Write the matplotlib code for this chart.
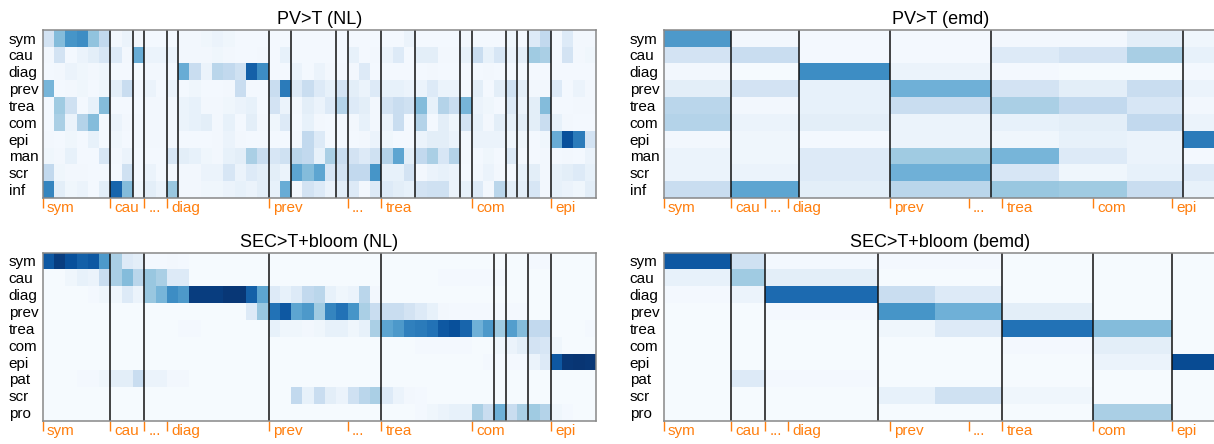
import numpy as np
import matplotlib
matplotlib.use("Agg")
import matplotlib.pyplot as plt

plt.rcParams['font.family'] = ['Liberation Sans', 'DejaVu Sans']

# shared x groups (49 columns)
group_labels = ['sym', 'cau', '...', 'diag', 'prev', '...', 'trea', 'com', 'epi']
group_pos = [0, 6, 9, 11, 20, 27, 30, 38, 45]
n_cols = 49

rows_top = ['sym', 'cau', 'diag', 'prev', 'trea', 'com', 'epi', 'man', 'scr', 'inf']
rows_bot = ['sym', 'cau', 'diag', 'prev', 'trea', 'com', 'epi', 'pat', 'scr', 'pro']

# PV>T (NL) - one value per column
pv_nl = [
    [20,45,62,65,42,28, 5,8, 5, 4,4, 4, 5,5,6,8,6,4,4,4, 4,4, 4,4,4,4, 4, 4,4,4, 4,4,8, 4,4,4,4, 5, 4,4,4, 6, 4, 15,28, 4,15,5,5],
    [5,20,4,8,12,18, 15,5, 52, 8,8, 8, 5,5,5,6,5,4,4,5, 4,10, 4,4,4,4, 4, 10,4,5, 8,15,4, 12,12,5,5, 10, 25,10,18, 8, 12, 38,35, 4,20,5,6],
    [4,5,8,6,5,6, 4,4, 3, 5,5, 5, 52,25,8,30,28,22,82,65, 4,4, 8,4,8,5, 5, 5,15,4, 4,4,4, 4,5,4,4, 4, 4,5,4, 4, 4, 4,4, 4,4,4,4],
    [48,4,5,6,4,6, 12,25, 5, 8,4, 8, 4,6,4,4,5,25,4,4, 25,72, 15,25,15,10, 20, 12,8,15, 10,10,8, 8,15,8,8, 4, 12,4,12, 22, 12, 5,5, 15,4,8,5],
    [4,38,22,4,10,45, 4,4, 4, 5,5, 5, 8,10,5,5,6,8,10,4, 20,8, 5,12,8,15, 32, 15,12,5, 20,25,22, 45,10,32,25, 48, 8,6,4, 15, 8, 12,45, 4,4,5,5],
    [4,35,8,32,45,4, 8,5, 5, 5,5, 5, 8,10,12,5,10,4,12,5, 6,15, 4,10,5,4, 4, 5,10,5, 8,25,4, 32,4,12,6, 20, 10,5,12, 10, 12, 12,25, 10,5,4,4],
    [5,4,6,4,10,4, 6,4, 5, 5,5, 5, 4,4,4,5,8,5,4,4, 4,4, 5,28,15,4, 4, 4,5,8, 6,4,4, 8,12,12,8, 5, 8,8,8, 6, 6, 4,6, 52,88,72,20],
    [6,5,10,4,4,18, 5,8, 4, 4,4, 18, 12,10,6,5,10,12,35,25, 18,22, 30,28,10,35, 25, 20,15,22, 32,55,12, 28,35,18,32, 5, 4,6,4, 15, 4, 4,5, 4,5,4,8],
    [28,6,5,5,4,4, 4,22, 4, 8,4, 4, 5,5,8,8,18,8,15,12, 12,8, 55,45,55,18, 20, 28,28,62, 10,10,20, 5,8,10,8, 4, 5,8,5, 4, 10, 12,5, 10,12,15,10],
    [68,12,6,8,4,12, 80,45, 6, 12,8, 40, 5,5,6,6,8,10,8,12, 10,52, 5,20,15,8, 12, 15,5,15, 15,12,10, 20,22,22,8, 10, 15,5,30, 12, 12, 18,5, 10,8,6,12],
]
pv_nl_lines = [6, 8, 9, 11, 12, 20, 22, 26, 27, 30, 33, 37, 38, 41, 42, 43, 45]

# SEC>T+bloom (NL)
sec_nl = [
    [85,95,88,82,85,60, 35,15,12, 4,4,5,4,3,3,3,3,3,3,3, 3,3,3,3,3,3,3,3,3,3, 3,3,3,3,3,3,3,3,3,3, 3, 3,3, 4,4, 3,3,3,3],
    [3,3,6,10,8,25, 35,45,30, 40,35,15,15,3,3,3,3,3,3,3, 3,3,3,3,3,3,3,3,3,3, 3,3,3,3,3,4,4,4,4,4, 4, 3,3, 3,3, 3,3,3,3],
    [3,3,3,3,4,6, 6,15,8, 40,48,65,60,95,95,95,97,97,82,55, 15,10,15,28,30,10,6,8,30,5, 3,3,3,3,3,3,3,3,3,3, 3, 3,3, 3,3, 3,3,3,3],
    [3,3,3,3,3,3, 3,3,3, 3,3,3,3,3,3,3,3,3,15,40, 75,85,55,60,38,68,75,62,35,25, 25,25,20,15,10,5,4,4,4,4, 4, 4,4, 3,3, 3,3,3,3],
    [3,3,3,3,3,3, 3,3,3, 3,3,3,4,4,3,3,3,3,3,3, 10,6,6,5,6,10,10,6,10,35, 55,60,70,72,75,85,88,80,50,60, 38, 58,45, 28,28, 3,3,3,4],
    [3,3,3,3,3,3, 3,3,3, 3,3,3,3,3,3,3,3,3,3,3, 3,3,3,3,3,3,3,3,3,3, 3,3,3,4,4,4,4,4,3,3, 6, 8,12, 20,18, 6,3,3,3],
    [3,3,3,3,3,3, 3,3,3, 3,3,3,3,3,3,3,3,3,3,3, 3,3,3,3,3,3,3,3,3,3, 3,3,3,3,3,3,3,3,3,4, 4, 4,4, 8,15, 85,97,98,97],
    [3,3,3,4,4,6, 12,12,25, 8,8,5,5,3,3,3,3,3,3,3, 3,3,3,3,3,3,3,3,3,3, 3,3,3,3,3,3,3,3,3,3, 3, 3,3, 3,3, 3,3,3,3],
    [3,3,3,3,3,3, 3,3,3, 3,3,3,3,3,3,3,3,3,3,3, 3,3,28,10,25,12,8,22,30,35, 15,8,5,4,3,3,3,3,3,3, 3, 3,3, 3,3, 3,3,3,3],
    [3,3,3,3,3,3, 3,3,3, 3,3,3,3,3,3,3,3,3,3,3, 3,3,3,3,3,3,3,3,3,3, 3,3,3,4,6,8,10,10,35,25, 50, 25,35, 38,32, 6,4,3,3],
]
sec_nl_lines = [6, 9, 20, 30, 40, 41, 43, 45]

# PV>T (emd) - blocks of columns
pv_emd_edges = [0, 6, 12, 20, 29, 35, 41, 46, 49]
pv_emd = [
    [60, 5, 4, 4, 5, 5, 12, 6],
    [20, 25, 4, 4, 15, 20, 36, 10],
    [5, 3, 65, 8, 4, 3, 3, 4],
    [12, 20, 10, 50, 20, 12, 25, 8],
    [30, 5, 10, 25, 35, 28, 18, 5],
    [32, 8, 12, 8, 10, 12, 28, 8],
    [5, 6, 4, 8, 6, 10, 8, 72],
    [8, 6, 15, 38, 48, 15, 8, 4],
    [8, 8, 15, 50, 18, 6, 10, 15],
    [25, 55, 12, 30, 40, 38, 25, 10],
]
pv_emd_lines = [6, 12, 20, 29, 46]

# SEC>T+bloom (bemd)
sec_bemd_edges = [0, 6, 9, 19, 24, 30, 38, 45, 49]
sec_bemd = [
    [85, 22, 4, 4, 4, 3, 3, 3],
    [10, 38, 12, 3, 3, 3, 3, 3],
    [4, 8, 78, 25, 15, 3, 3, 3],
    [3, 3, 4, 62, 50, 12, 3, 3],
    [3, 3, 3, 6, 15, 75, 45, 3],
    [3, 3, 3, 3, 3, 4, 12, 3],
    [3, 3, 3, 3, 3, 3, 8, 90],
    [3, 15, 4, 3, 3, 3, 3, 3],
    [3, 3, 3, 10, 22, 6, 3, 3],
    [3, 3, 3, 3, 3, 3, 35, 3],
]
sec_bemd_lines = [6, 9, 19, 30, 38, 45]

orange = '#ff7f0e'
W, H = 1214, 444
fig = plt.figure(figsize=(W / 100, H / 100), dpi=100)


def panel(rect, title, rows, vals, edges, lines):
    ax = fig.add_axes(rect)
    ax.pcolormesh(edges, np.arange(len(rows) + 1), np.array(vals),
                  cmap='Blues', vmin=2, vmax=100)
    ax.set_xlim(0, n_cols)
    ax.set_ylim(len(rows), 0)
    for x in lines:
        ax.axvline(x, color='#111111', lw=1.1)
    for s in ax.spines.values():
        s.set_color('#888888')
        s.set_linewidth(1.1)
    ax.set_yticks(np.arange(len(rows)) + 0.5)
    ax.set_yticklabels(rows, ha='left', fontsize=11)
    ax.tick_params(axis='y', length=0, pad=24.5)
    ax.set_xticks(group_pos)
    ax.tick_params(axis='x', length=7, width=1, color=orange, labelbottom=False)
    for lab, p in zip(group_labels, group_pos):
        ax.annotate(lab, xy=(p, 0), xycoords=('data', 'axes fraction'),
                    xytext=(3, -2.5), textcoords='offset points',
                    ha='left', va='top', color=orange, fontsize=11)
    ax.set_title(title, fontsize=13, pad=4)
    return ax


def rect(l, t, r, b):
    return [l / W, 1 - b / H, (r - l) / W, (b - t) / H]


panel(rect(42.7, 29.7, 596, 198), 'PV>T (NL)', rows_top, pv_nl, np.arange(n_cols + 1), pv_nl_lines)
panel(rect(663.7, 29.7, 1217, 198), 'PV>T (emd)', rows_top, pv_emd, pv_emd_edges, pv_emd_lines)
panel(rect(42.7, 252.5, 596, 421), 'SEC>T+bloom (NL)', rows_bot, sec_nl, np.arange(n_cols + 1), sec_nl_lines)
panel(rect(663.7, 252.5, 1217, 421), 'SEC>T+bloom (bemd)', rows_bot, sec_bemd, sec_bemd_edges, sec_bemd_lines)

fig.savefig('out.png', dpi=100)
